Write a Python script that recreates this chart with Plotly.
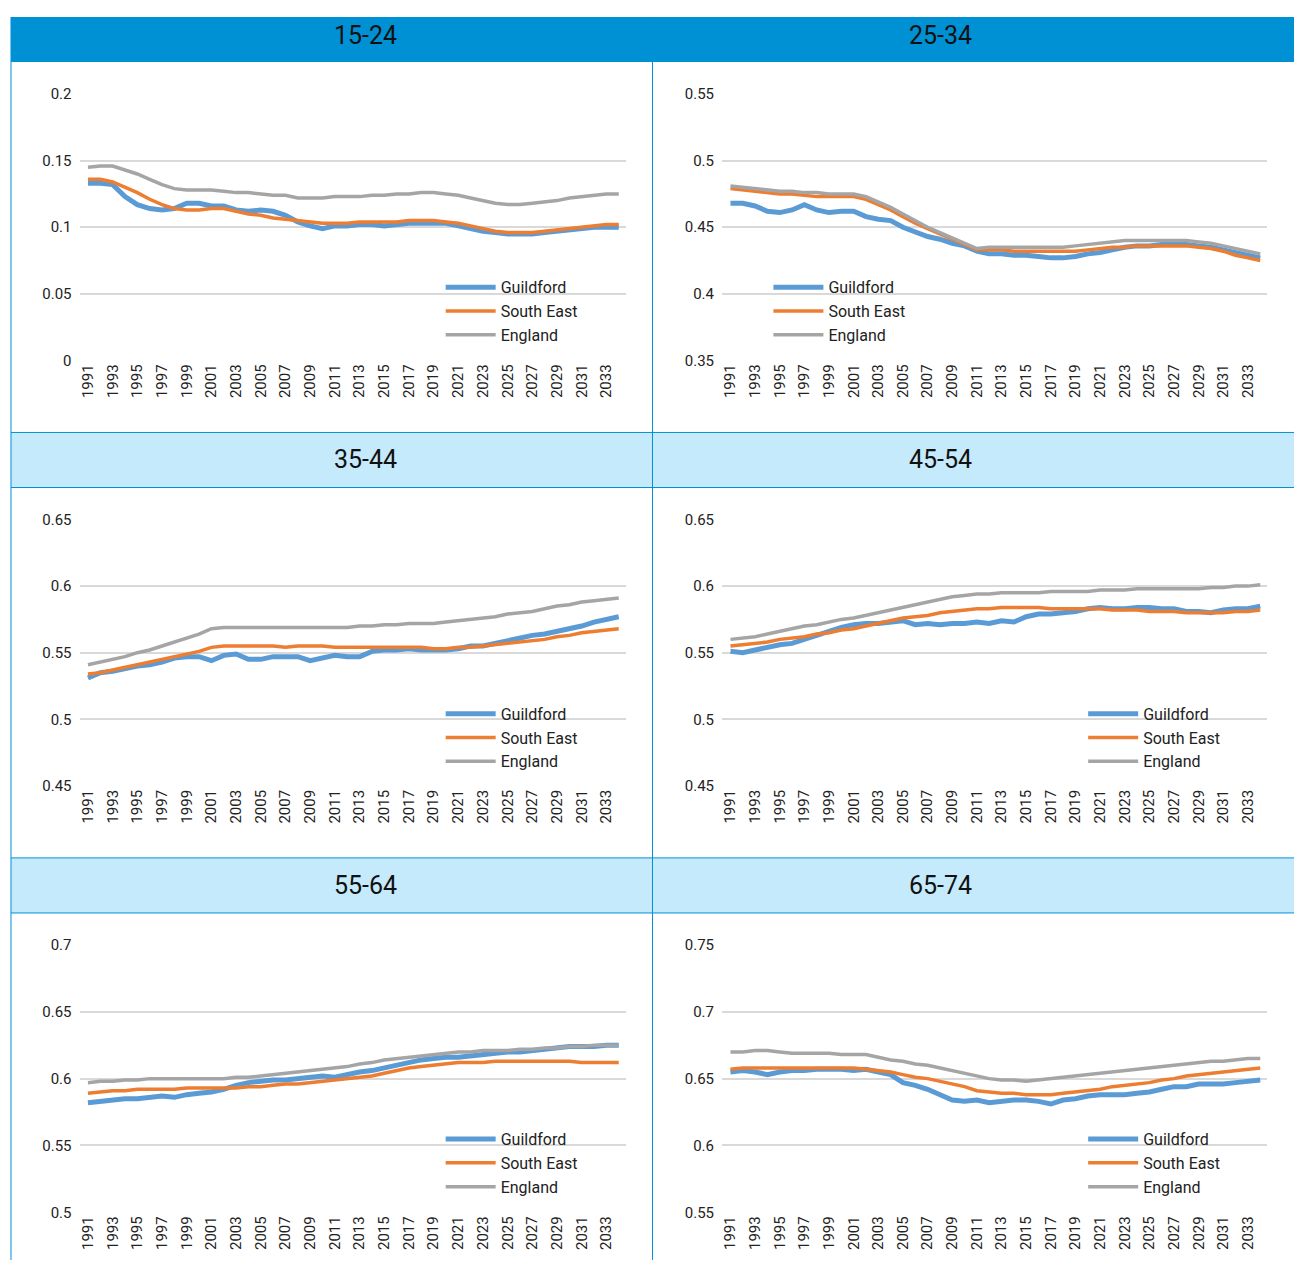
import plotly.graph_objects as go

W, H = 1302, 1277
years = list(range(1991, 2035))
series_names = ['Guildford', 'South East', 'England']
panel_titles = ['15-24', '25-34', '35-44', '45-54', '55-64', '65-74']

g_1524 = [.133,.133,.132,.123,.117,.114,.113,.114,.118,.118,
          .116,.116,.113,.112,.113,.112,.109,.104,.101,.099,
          .101,.101,.102,.102,.101,.102,.103,.103,.103,.103,
          .101,.099,.097,.096,.095,.095,.095,.096,.097,.098,
          .099,.100,.100,.100]
se_1524 = [.136,.136,.134,.130,.126,.121,.117,.114,.113,.113,
           .114,.114,.112,.110,.109,.107,.106,.105,.104,.103,
           .103,.103,.104,.104,.104,.104,.105,.105,.105,.104,
           .103,.101,.099,.097,.096,.096,.096,.097,.098,.099,
           .100,.101,.102,.102]
e_1524 = [.145,.146,.146,.143,.140,.136,.132,.129,.128,.128,
          .128,.127,.126,.126,.125,.124,.124,.122,.122,.122,
          .123,.123,.123,.124,.124,.125,.125,.126,.126,.125,
          .124,.122,.120,.118,.117,.117,.118,.119,.120,.122,
          .123,.124,.125,.125]

g_2534 = [.468,.468,.466,.462,.461,.463,.467,.463,.461,.462,
          .462,.458,.456,.455,.450,.446,.443,.441,.438,.436,
          .432,.430,.430,.429,.429,.428,.427,.427,.428,.430,
          .431,.433,.435,.436,.436,.437,.437,.437,.436,.435,
          .433,.431,.429,.427]
se_2534 = [.479,.478,.477,.476,.475,.475,.474,.473,.473,.473,
           .473,.471,.467,.463,.458,.453,.449,.445,.441,.437,
           .433,.433,.433,.432,.432,.432,.432,.432,.432,.433,
           .434,.435,.435,.436,.436,.436,.436,.436,.435,.434,
           .432,.429,.427,.425]
e_2534 = [.481,.480,.479,.478,.477,.477,.476,.476,.475,.475,
          .475,.473,.469,.465,.460,.455,.450,.446,.442,.438,
          .434,.435,.435,.435,.435,.435,.435,.435,.436,.437,
          .438,.439,.440,.440,.440,.440,.440,.440,.439,.438,
          .436,.434,.432,.430]

g_3544 = [.531,.535,.536,.538,.540,.541,.543,.546,.547,.547,
          .544,.548,.549,.545,.545,.547,.547,.547,.544,.546,
          .548,.547,.547,.551,.552,.552,.553,.552,.552,.552,
          .553,.555,.555,.557,.559,.561,.563,.564,.566,.568,
          .570,.573,.575,.577]
se_3544 = [.534,.535,.537,.539,.541,.543,.545,.547,.549,.551,
           .554,.555,.555,.555,.555,.555,.554,.555,.555,.555,
           .554,.554,.554,.554,.554,.554,.554,.554,.553,.553,
           .554,.554,.555,.556,.557,.558,.559,.560,.562,.563,
           .565,.566,.567,.568]
e_3544 = [.541,.543,.545,.547,.550,.552,.555,.558,.561,.564,
          .568,.569,.569,.569,.569,.569,.569,.569,.569,.569,
          .569,.569,.570,.570,.571,.571,.572,.572,.572,.573,
          .574,.575,.576,.577,.579,.580,.581,.583,.585,.586,
          .588,.589,.590,.591]

g_4554 = [.551,.550,.552,.554,.556,.557,.560,.563,.566,.569,
          .571,.572,.572,.573,.574,.571,.572,.571,.572,.572,
          .573,.572,.574,.573,.577,.579,.579,.580,.581,.583,
          .584,.583,.583,.584,.584,.583,.583,.581,.581,.580,
          .582,.583,.583,.585]
se_4554 = [.555,.556,.557,.558,.560,.561,.562,.564,.565,.567,
           .568,.570,.572,.574,.576,.577,.578,.580,.581,.582,
           .583,.583,.584,.584,.584,.584,.583,.583,.583,.583,
           .583,.582,.582,.582,.581,.581,.581,.580,.580,.580,
           .580,.581,.581,.582]
e_4554 = [.560,.561,.562,.564,.566,.568,.570,.571,.573,.575,
          .576,.578,.580,.582,.584,.586,.588,.590,.592,.593,
          .594,.594,.595,.595,.595,.595,.596,.596,.596,.596,
          .597,.597,.597,.598,.598,.598,.598,.598,.598,.599,
          .599,.600,.600,.601]

g_5564 = [.582,.583,.584,.585,.585,.586,.587,.586,.588,.589,
          .590,.592,.595,.597,.598,.599,.599,.600,.601,.602,
          .601,.603,.605,.606,.608,.610,.612,.614,.615,.616,
          .616,.617,.618,.619,.620,.620,.621,.622,.623,.624,
          .624,.624,.625,.625]
se_5564 = [.589,.590,.591,.591,.592,.592,.592,.592,.593,.593,
           .593,.593,.593,.594,.594,.595,.596,.596,.597,.598,
           .599,.600,.601,.602,.604,.606,.608,.609,.610,.611,
           .612,.612,.612,.613,.613,.613,.613,.613,.613,.613,
           .612,.612,.612,.612]
e_5564 = [.597,.598,.598,.599,.599,.600,.600,.600,.600,.600,
          .600,.600,.601,.601,.602,.603,.604,.605,.606,.607,
          .608,.609,.611,.612,.614,.615,.616,.617,.618,.619,
          .620,.620,.621,.621,.621,.622,.622,.623,.623,.624,
          .624,.625,.625,.625]

g_6574 = [.655,.656,.655,.653,.655,.656,.656,.657,.657,.657,
          .656,.657,.655,.653,.647,.645,.642,.638,.634,.633,
          .634,.632,.633,.634,.634,.633,.631,.634,.635,.637,
          .638,.638,.638,.639,.640,.642,.644,.644,.646,.646,
          .646,.647,.648,.649]
se_6574 = [.657,.658,.658,.658,.658,.658,.658,.658,.658,.658,
           .658,.657,.656,.655,.653,.651,.650,.648,.646,.644,
           .641,.640,.639,.639,.638,.638,.638,.639,.640,.641,
           .642,.644,.645,.646,.647,.649,.650,.652,.653,.654,
           .655,.656,.657,.658]
e_6574 = [.670,.670,.671,.671,.670,.669,.669,.669,.669,.668,
          .668,.668,.666,.664,.663,.661,.660,.658,.656,.654,
          .652,.650,.649,.649,.648,.649,.650,.651,.652,.653,
          .654,.655,.656,.657,.658,.659,.660,.661,.662,.663,
          .663,.664,.665,.665]

panel_data = [(g_1524, se_1524, e_1524), (g_2534, se_2534, e_2534),
              (g_3544, se_3544, e_3544), (g_4554, se_4554, e_4554),
              (g_5564, se_5564, e_5564), (g_6574, se_6574, e_6574)]
y_ranges = [(0, 0.2), (0.35, 0.55), (0.45, 0.65), (0.45, 0.65), (0.5, 0.7), (0.55, 0.75)]

colors = ['#5b9bd5', '#ed7d31', '#a5a5a5']
widths = [5, 3.5, 3.5]
FONT = 'Liberation Sans Narrow, Arial Narrow, Roboto, Arial'

# the page body adds an 8px margin, so the figure is 16px smaller and offset by 8
OFF = 8
FW, FH = W - 2 * OFF, H - 2 * OFF

col_box = [(10, 652), (652, 1295)]
col_plot = [(79, 625), (722, 1267)]
row_head = [(8, 62), (432, 487), (857, 912)]
row_plot = [(94, 360), (519, 785), (944, 1211)]
legend_px = [(440, 270), (768, 270), (440, 696), (1083, 696), (440, 1121), (1083, 1121)]

def px_x(p): return (p - OFF) / FW
def px_y(p):
    # measured vertical mapping of the rendered page
    q = (p - 9.1) / 0.9847
    return min(1.0, max(0.0, 1 - (q - OFF) / FH))

fig = go.Figure()
layout = dict(width=FW, height=FH, margin=dict(l=0, r=0, t=0, b=0),
              paper_bgcolor='white', plot_bgcolor='white',
              font=dict(family=FONT, size=15, color='#222'), shapes=[], annotations=[])

for i in range(6):
    r, c = divmod(i, 2)
    n = '' if i == 0 else str(i + 1)
    leg = 'legend' if i == 0 else 'legend' + str(i + 1)
    for s in range(3):
        fig.add_trace(go.Scatter(x=years, y=panel_data[i][s], name=series_names[s],
                                 mode='lines', line=dict(color=colors[s], width=widths[s]),
                                 xaxis='x' + n, yaxis='y' + n, legend=leg))
    y0, y1 = y_ranges[i]
    layout['xaxis' + n] = dict(domain=[px_x(col_plot[c][0]), px_x(col_plot[c][1])],
                               anchor='y' + n, range=[1990.35, 2034.55],
                               tickvals=list(range(1991, 2035, 2)), tickangle=-90,
                               tickfont=dict(size=15), showgrid=False, ticks='', zeroline=False)
    layout['yaxis' + n] = dict(domain=[px_y(row_plot[r][1]), px_y(row_plot[r][0])],
                               anchor='x' + n, range=[y0, y1], dtick=0.05,
                               tickformat='~g', gridcolor='#d9d9d9', gridwidth=1.5,
                               zeroline=False, tickfont=dict(size=15), ticksuffix='  ')
    layout[leg] = dict(x=px_x(legend_px[i][0]), y=px_y(legend_px[i][1]),
                       xanchor='left', yanchor='top', bgcolor='rgba(0,0,0,0)',
                       font=dict(size=16, family=FONT, color='#222'),
                       tracegroupgap=0, itemwidth=50)
    head_col = '#0091d5' if r == 0 else '#c5eafb'
    bx0, bx1 = col_box[c]
    hy0, hy1 = row_head[r]
    layout['shapes'].append(dict(type='rect', xref='paper', yref='paper',
                                 x0=px_x(bx0), x1=px_x(bx1), y0=px_y(hy1), y1=px_y(hy0),
                                 fillcolor=head_col, line=dict(width=0), layer='below'))
    layout['annotations'].append(dict(text=panel_titles[i], xref='paper', yref='paper',
                                      x=px_x((bx0 + bx1) / 2), y=px_y((hy0 + hy1) / 2),
                                      yanchor='middle', showarrow=False,
                                      font=dict(size=25, family=FONT, color='#111')))

for x in [10, 652, 1295]:
    layout['shapes'].append(dict(type='line', xref='paper', yref='paper', x0=px_x(x), x1=px_x(x),
                                 y0=px_y(1277), y1=px_y(8), line=dict(color='#0091d5', width=1)))
for y in [432, 487, 857, 912]:
    layout['shapes'].append(dict(type='line', xref='paper', yref='paper', x0=px_x(10), x1=px_x(1295),
                                 y0=px_y(y), y1=px_y(y), line=dict(color='#0091d5', width=1)))

fig.update_layout(**layout)
fig.write_html('out.html')
